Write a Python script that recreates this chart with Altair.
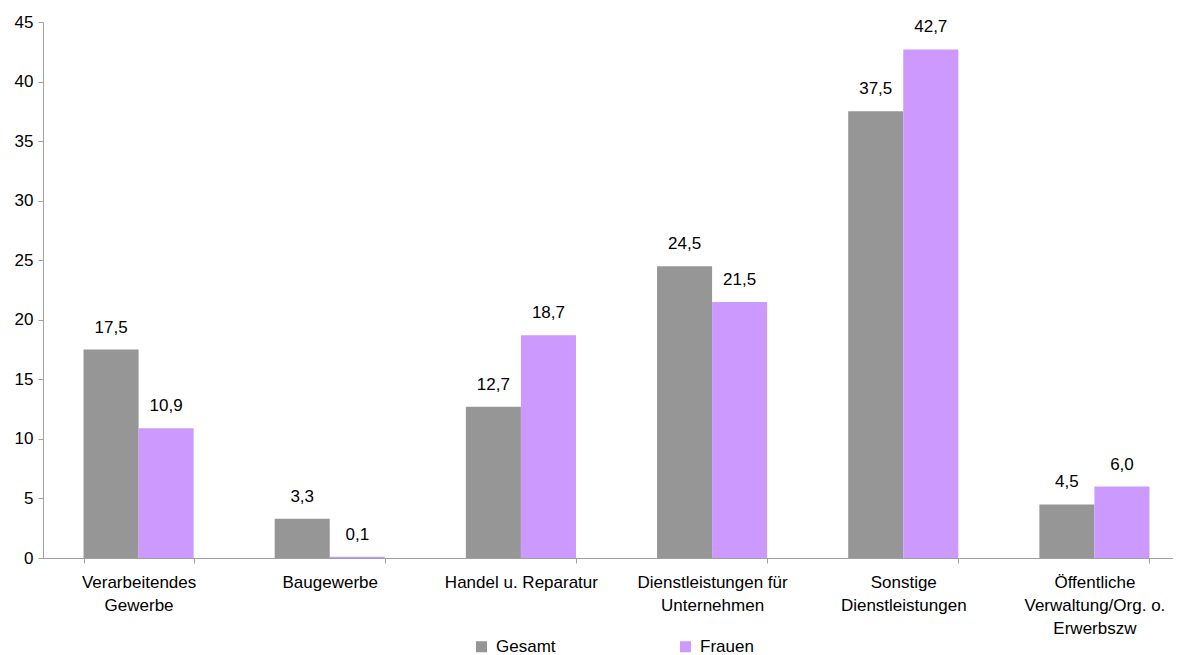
import altair as alt
import pandas as pd

categories = [
    "Verarbeitendes|Gewerbe",
    "Baugewerbe",
    "Handel u. Reparatur",
    "Dienstleistungen für|Unternehmen",
    "Sonstige|Dienstleistungen",
    "Öffentliche|Verwaltung/Org. o.|Erwerbszw",
]
series = ["Gesamt", "Frauen"]
gesamt = [17.5, 3.3, 12.7, 24.5, 37.5, 4.5]
frauen = [10.9, 0.1, 18.7, 21.5, 42.7, 6.0]
colors = ["#969696", "#CC99FF"]
y_ticks = [0, 5, 10, 15, 20, 25, 30, 35, 40, 45]

rows = []
for c, g, f in zip(categories, gesamt, frauen):
    rows.append({"cat": c, "series": "Gesamt", "value": g})
    rows.append({"cat": c, "series": "Frauen", "value": f})
df = pd.DataFrame(rows)

FONT = "Liberation Sans"
AXIS_COLOR = "#A0A0A0"
FS = 17

x = alt.X(
    "cat:N",
    sort=categories,
    title=None,
    scale=alt.Scale(paddingInner=0.424, paddingOuter=0.212, range=[0, 1147]),
    axis=alt.Axis(
        labelExpr="split(datum.label, '|')",
        labelAngle=0,
        labelFont=FONT,
        labelFontSize=FS,
        labelColor="#000000",
        labelPadding=11,
        labelLineHeight=23,
        labelBaseline="top",
        tickBand="extent",
        tickSize=5,
        tickColor=AXIS_COLOR,
        domainColor=AXIS_COLOR,
        grid=False,
    ),
)
y = alt.Y(
    "value:Q",
    title=None,
    scale=alt.Scale(domain=[0, 45], nice=False),
    axis=alt.Axis(
        values=y_ticks,
        labelFont=FONT,
        labelFontSize=FS,
        labelColor="#000000",
        labelPadding=5,
        tickSize=5,
        tickColor=AXIS_COLOR,
        domainColor=AXIS_COLOR,
        grid=False,
    ),
)
xoff = alt.XOffset("series:N", sort=series, scale=alt.Scale(paddingInner=0, paddingOuter=0))
color = alt.Color(
    "series:N",
    sort=series,
    scale=alt.Scale(domain=series, range=colors),
    legend=alt.Legend(
        title=None,
        orient="none",
        direction="horizontal",
        legendX=430,
        legendY=616,
        symbolType="square",
        symbolSize=121,
        symbolStrokeWidth=0,
        symbolOpacity=1,
        labelFont=FONT,
        labelFontSize=FS,
        labelColor="#000000",
        labelOffset=6,
        columnPadding=121,
    ),
)

base = alt.Chart(df).encode(x=x, xOffset=xoff)

bars = base.mark_bar(opacity=1).encode(y=y, color=color)
labels = base.transform_calculate(
    lbl="replace(format(datum.value, '.1f'), '.', ',')"
).mark_text(
    baseline="bottom", dy=-13, font=FONT, fontSize=FS, color="#000000"
).encode(y="value:Q", text="lbl:N")

chart = (
    alt.layer(bars, labels)
    .properties(
        width=1130,
        height=536,
        background="white",
        autosize=alt.AutoSizeParams(type="none"),
        padding={"left": 35, "top": 14, "right": 0, "bottom": 97},
    )
    .configure_view(strokeWidth=0, stroke="transparent")
)

chart.save("out.html", embed_options={"renderer": "svg", "actions": False})
